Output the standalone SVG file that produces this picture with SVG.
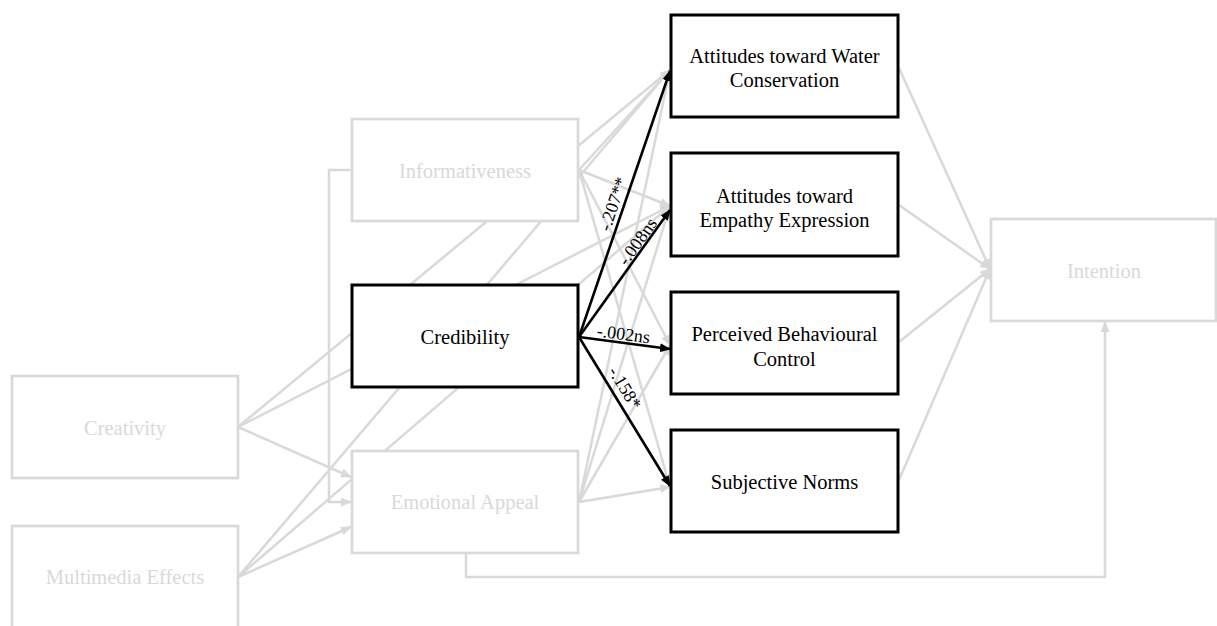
<svg xmlns="http://www.w3.org/2000/svg" width="1217" height="626" viewBox="0 0 1217 626">
  <style>
    .g { stroke: #d9d9d9; stroke-width: 2.5; fill: none; }
    .b { stroke: #000; stroke-width: 2.6; fill: none; }
    .gb { fill: #fff; stroke: #d9d9d9; stroke-width: 2.7; }
    .bb { fill: #fff; stroke: #000; stroke-width: 3; }
    text { font-family: "Liberation Serif", "Times New Roman", serif; font-size: 20.5px; text-anchor: middle; }
    .gt { fill: #d9d9d9; }
    .bt { fill: #000; }
    .lbl { font-size: 18px; fill: #000; }
  </style>
  <defs>
    <marker id="ag" markerUnits="userSpaceOnUse" markerWidth="11" markerHeight="9" refX="10" refY="4.5" orient="auto">
      <path d="M0,0 L11,4.5 L0,9 z" fill="#d9d9d9"/>
    </marker>
    <marker id="ab" markerUnits="userSpaceOnUse" markerWidth="11" markerHeight="9" refX="10" refY="4.5" orient="auto">
      <path d="M0,0 L11,4.5 L0,9 z" fill="#000"/>
    </marker>
  </defs>

  <!-- connectors -->
  <g id="connectors">
    <g id="paths-grey">
      <!-- Creativity -->
      <line class="g" x1="238" y1="427" x2="670" y2="70" marker-end="url(#ag)"/>
      <line class="g" x1="238" y1="427" x2="670" y2="206" marker-end="url(#ag)"/>
      <line class="g" x1="238" y1="427" x2="351" y2="477" marker-end="url(#ag)"/>
      <!-- Multimedia Effects -->
      <line class="g" x1="238" y1="577" x2="670" y2="70" marker-end="url(#ag)"/>
      <line class="g" x1="238" y1="577" x2="670" y2="206" marker-end="url(#ag)"/>
      <line class="g" x1="238" y1="577" x2="351" y2="527" marker-end="url(#ag)"/>
      <!-- Informativeness -->
      <line class="g" x1="579" y1="170" x2="670" y2="70" marker-end="url(#ag)"/>
      <line class="g" x1="579" y1="170" x2="670" y2="206" marker-end="url(#ag)"/>
      <line class="g" x1="579" y1="170" x2="670" y2="345" marker-end="url(#ag)"/>
      <line class="g" x1="579" y1="170" x2="670" y2="487" marker-end="url(#ag)"/>
      <polyline class="g" points="352,170 329,170 329,502 351,502" marker-end="url(#ag)"/>
      <!-- Emotional Appeal -->
      <line class="g" x1="579" y1="502" x2="670" y2="70" marker-end="url(#ag)"/>
      <line class="g" x1="579" y1="502" x2="670" y2="206" marker-end="url(#ag)"/>
      <line class="g" x1="579" y1="502" x2="670" y2="345" marker-end="url(#ag)"/>
      <line class="g" x1="579" y1="502" x2="670" y2="487" marker-end="url(#ag)"/>
      <polyline class="g" points="466,553 466,577 1105,577 1105,322" marker-end="url(#ag)"/>
      <!-- into Intention -->
      <line class="g" x1="899" y1="68" x2="990" y2="269" marker-end="url(#ag)"/>
      <line class="g" x1="899" y1="205" x2="990" y2="269" marker-end="url(#ag)"/>
      <line class="g" x1="899" y1="342" x2="990" y2="269" marker-end="url(#ag)"/>
      <line class="g" x1="899" y1="480" x2="990" y2="269" marker-end="url(#ag)"/>
    </g>
    <g id="paths-credibility">
      <line class="b" x1="579" y1="337" x2="670" y2="71" marker-end="url(#ab)"/>
      <line class="b" x1="579" y1="337" x2="670" y2="210" marker-end="url(#ab)"/>
      <line class="b" x1="579" y1="337" x2="670" y2="349" marker-end="url(#ab)"/>
      <line class="b" x1="579" y1="337" x2="670" y2="486" marker-end="url(#ab)"/>
      <text class="lbl" transform="translate(613,204) rotate(-71.1)" y="6">-.207**</text>
      <text class="lbl" transform="translate(637.5,241.5) rotate(-54.4)" y="6">-.008ns</text>
      <text class="lbl" transform="translate(623.5,334) rotate(7.5)" y="6">-.002ns</text>
      <text class="lbl" transform="translate(625,388) rotate(58.6)" y="6">-.158*</text>
    </g>
  </g>

  <!-- grey nodes -->
  <g id="node-creativity">
    <rect class="gb" x="12" y="376" width="226" height="102"/>
    <text class="gt" x="125" y="435">Creativity</text>
  </g>
  <g id="node-multimedia">
    <rect class="gb" x="12" y="526" width="226" height="102"/>
    <text class="gt" x="125" y="584">Multimedia Effects</text>
  </g>
  <g id="node-informativeness">
    <rect class="gb" x="352" y="119" width="226" height="102"/>
    <text class="gt" x="465" y="178">Informativeness</text>
  </g>
  <g id="node-emotional">
    <rect class="gb" x="352" y="451" width="226" height="102"/>
    <text class="gt" x="465" y="509">Emotional Appeal</text>
  </g>
  <g id="node-intention">
    <rect class="gb" x="991" y="219" width="225" height="102"/>
    <text class="gt" x="1104" y="278">Intention</text>
  </g>

  <!-- highlighted nodes -->
  <g id="node-credibility">
    <rect class="bb" x="352" y="285" width="226" height="102"/>
    <text class="bt" x="465" y="344">Credibility</text>
  </g>
  <g id="node-att-water">
    <rect class="bb" x="671" y="15" width="227" height="102"/>
    <text class="bt" x="784.5" y="63">Attitudes toward Water</text>
    <text class="bt" x="784.5" y="87">Conservation</text>
  </g>
  <g id="node-att-empathy">
    <rect class="bb" x="671" y="153" width="227" height="103"/>
    <text class="bt" x="784.5" y="203">Attitudes toward</text>
    <text class="bt" x="784.5" y="227">Empathy Expression</text>
  </g>
  <g id="node-pbc">
    <rect class="bb" x="671" y="292" width="227" height="102"/>
    <text class="bt" x="784.5" y="341">Perceived Behavioural</text>
    <text class="bt" x="784.5" y="366">Control</text>
  </g>
  <g id="node-sn">
    <rect class="bb" x="671" y="430" width="227" height="102"/>
    <text class="bt" x="784.5" y="489">Subjective Norms</text>
  </g>
</svg>
